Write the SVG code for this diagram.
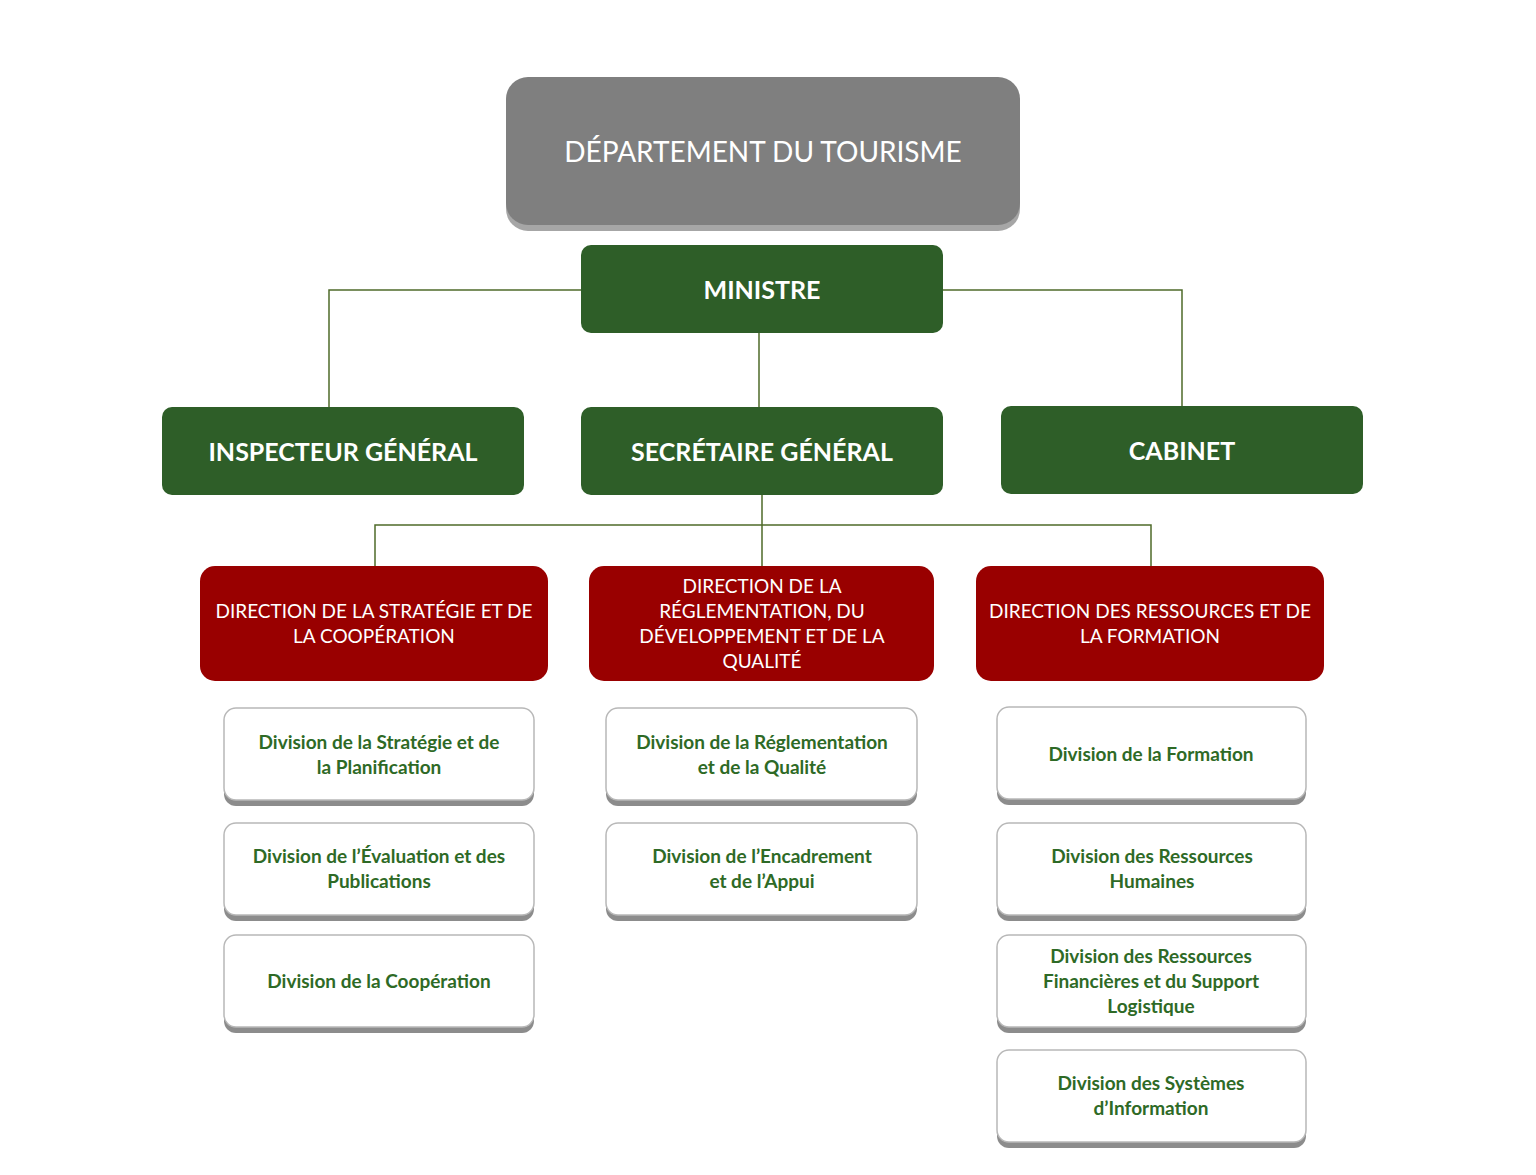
<svg xmlns="http://www.w3.org/2000/svg" width="1536" height="1175" viewBox="0 0 1536 1175">
<style>
text{font-family:Lato,"Open Sans","Liberation Sans",sans-serif;text-anchor:middle}
.g{fill:#2e5e28}.r{fill:#990000}
.wt{fill:#fff;font-weight:bold;font-size:25px}
.rt{fill:#fff;font-size:19px}
.dt{fill:#2e6a26;font-weight:bold;font-size:19px}
.dv{fill:#fff;stroke:#b8b8b8;stroke-width:1.5}
.sh{fill:#8c8c8c}
.c{stroke:#4f6b2a;stroke-width:1.5;fill:none}
</style>
<rect width="1536" height="1175" fill="#fff"/>
<g id="connectors">
<path class="c" d="M581 290H329V407M943 290H1182V406M759 333V407M762 495V566M375 566V525H1151V566"/>
</g>
<g id="dept"><rect x="506" y="83" width="514" height="148" rx="22" fill="#a6a6a6"/><rect x="506" y="77" width="514" height="148" rx="22" fill="#7f7f7f"/><text x="763" y="162" fill="#fff" font-size="28">DÉPARTEMENT DU TOURISME</text></g>
<g id="ministre"><rect class="g" x="581" y="245" width="362" height="88" rx="10"/><text class="wt" x="762" y="299">MINISTRE</text></g>
<g id="ig"><rect class="g" x="162" y="407" width="362" height="88" rx="10"/><text class="wt" x="343" y="461">INSPECTEUR GÉNÉRAL</text></g>
<g id="sg"><rect class="g" x="581" y="407" width="362" height="88" rx="10"/><text class="wt" x="762" y="461">SECRÉTAIRE GÉNÉRAL</text></g>
<g id="cabinet"><rect class="g" x="1001" y="406" width="362" height="88" rx="10"/><text class="wt" x="1182" y="460">CABINET</text></g>
<g id="d1"><rect class="r" x="200" y="566" width="348" height="115" rx="15"/><text class="rt" x="374" y="618">DIRECTION DE LA STRATÉGIE ET DE</text><text class="rt" x="374" y="643">LA COOPÉRATION</text></g>
<g id="d2"><rect class="r" x="589" y="566" width="345" height="115" rx="15"/><text class="rt" x="762" y="593">DIRECTION DE LA</text><text class="rt" x="762" y="618">RÉGLEMENTATION, DU</text><text class="rt" x="762" y="643">DÉVELOPPEMENT ET DE LA</text><text class="rt" x="762" y="668">QUALITÉ</text></g>
<g id="d3"><rect class="r" x="976" y="566" width="348" height="115" rx="15"/><text class="rt" x="1150" y="618">DIRECTION DES RESSOURCES ET DE</text><text class="rt" x="1150" y="643">LA FORMATION</text></g>
<g id="v1"><rect class="sh" x="224" y="714" width="310" height="92" rx="12"/><rect class="dv" x="224" y="708" width="310" height="92" rx="12"/><text class="dt" x="379" y="749">Division de la Stratégie et de</text><text class="dt" x="379" y="774">la Planification</text></g>
<g id="v2"><rect class="sh" x="224" y="829" width="310" height="92" rx="12"/><rect class="dv" x="224" y="823" width="310" height="92" rx="12"/><text class="dt" x="379" y="863">Division de l’Évaluation et des</text><text class="dt" x="379" y="888">Publications</text></g>
<g id="v3"><rect class="sh" x="224" y="941" width="310" height="92" rx="12"/><rect class="dv" x="224" y="935" width="310" height="92" rx="12"/><text class="dt" x="379" y="988">Division de la Coopération</text></g>
<g id="v4"><rect class="sh" x="606" y="714" width="311" height="92" rx="12"/><rect class="dv" x="606" y="708" width="311" height="92" rx="12"/><text class="dt" x="762" y="749">Division de la Réglementation</text><text class="dt" x="762" y="774">et de la Qualité</text></g>
<g id="v5"><rect class="sh" x="606" y="829" width="311" height="92" rx="12"/><rect class="dv" x="606" y="823" width="311" height="92" rx="12"/><text class="dt" x="762" y="863">Division de l’Encadrement</text><text class="dt" x="762" y="888">et de l’Appui</text></g>
<g id="v6"><rect class="sh" x="997" y="713" width="309" height="92" rx="12"/><rect class="dv" x="997" y="707" width="309" height="92" rx="12"/><text class="dt" x="1151" y="761">Division de la Formation</text></g>
<g id="v7"><rect class="sh" x="997" y="829" width="309" height="92" rx="12"/><rect class="dv" x="997" y="823" width="309" height="92" rx="12"/><text class="dt" x="1152" y="863">Division des Ressources</text><text class="dt" x="1152" y="888">Humaines</text></g>
<g id="v8"><rect class="sh" x="997" y="941" width="309" height="92" rx="12"/><rect class="dv" x="997" y="935" width="309" height="92" rx="12"/><text class="dt" x="1151" y="963">Division des Ressources</text><text class="dt" x="1151" y="988">Financières et du Support</text><text class="dt" x="1151" y="1013">Logistique</text></g>
<g id="v9"><rect class="sh" x="997" y="1056" width="309" height="92" rx="12"/><rect class="dv" x="997" y="1050" width="309" height="92" rx="12"/><text class="dt" x="1151" y="1090">Division des Systèmes</text><text class="dt" x="1151" y="1115">d’Information</text></g>
</svg>
